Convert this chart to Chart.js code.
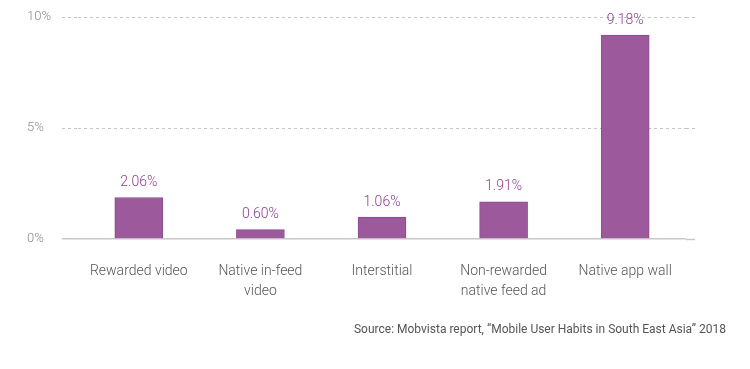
<!DOCTYPE html>
<html>
<head>
<meta charset="utf-8">
<script src="https://cdn.jsdelivr.net/npm/chart.js@4.4.1/dist/chart.umd.min.js"></script>
<style>
  body { margin: 0; background: #fff; }
  #wrap { position: relative; width: 750px; height: 369px; }
  #source {
    position: absolute; right: 24px; top: 322px;
    font-family: Roboto, sans-serif; font-size: 12px; color: #555;
  }
</style>
</head>
<body>
<div id="wrap">
  <canvas id="chart" width="750" height="369"></canvas>
  <div id="source">Source: Mobvista report, “Mobile User Habits in South East Asia” 2018</div>
</div>
<script>
// Data
const categories = ['Rewarded video', ['Native in-feed', 'video'], 'Interstitial', ['Non-rewarded', 'native feed ad'], 'Native app wall'];
const barValues = [1.87, 0.42, 0.99, 1.67, 9.18];
const valueLabels = ['2.06%', '0.60%', '1.06%', '1.91%', '9.18%'];
const yTicks = [0, 5, 10];

const barColor = '#9c5a9c';
const labelColor = '#8e3c8e';
const dashColor = '#c4c4c4';
const baseColor = '#c8c8c8';

// draws the printed percentage above each bar
const valueLabelPlugin = {
  id: 'valueLabels',
  afterDatasetsDraw(chart) {
    const ctx = chart.ctx;
    const meta = chart.getDatasetMeta(0);
    ctx.save();
    ctx.font = '300 14px Roboto, sans-serif';
    ctx.fillStyle = labelColor;
    ctx.textAlign = 'center';
    ctx.textBaseline = 'bottom';
    meta.data.forEach((bar, i) => {
      ctx.fillText(valueLabels[i], bar.x, bar.y - 8);
    });
    ctx.restore();
  }
};

const gridColor = c => c.tick && c.tick.value === 0 ? baseColor : dashColor;
const gridDash = c => c.tick && c.tick.value === 0 ? [] : [3, 3];
const gridWidth = c => c.tick && c.tick.value === 0 ? 1.5 : 1;

new Chart(document.getElementById('chart').getContext('2d'), {
  type: 'bar',
  data: {
    labels: categories,
    datasets: [{
      data: barValues,
      backgroundColor: barColor,
      borderColor: '#8f4a8f',
      borderWidth: 1,
      barThickness: 48
    }]
  },
  options: {
    responsive: false,
    animation: false,
    layout: { padding: { top: 17, left: 27, right: 0, bottom: 0 } },
    plugins: {
      legend: { display: false },
      tooltip: { enabled: false }
    },
    scales: {
      x: {
        grid: { display: false, drawTicks: false },
        border: { display: false },
        ticks: {
          color: '#555',
          padding: 22,
          maxRotation: 0,
          autoSkip: false,
          font: { family: 'Roboto', size: 14, weight: 300, lineHeight: 1.45 }
        },
        afterFit(scale) { scale.height = 130; }
      },
      y: {
        min: 0,
        max: 10,
        afterBuildTicks(scale) { scale.ticks = yTicks.map(v => ({ value: v })); },
        border: { display: false, dash: gridDash },
        grid: {
          color: gridColor,
          lineWidth: gridWidth,
          tickColor: gridColor,
          tickWidth: gridWidth,
          tickBorderDash: gridDash,
          tickLength: 16
        },
        ticks: {
          color: '#8a8a8a',
          padding: 0,
          crossAlign: 'far',
          font: { family: 'Roboto', size: 13, weight: 300 },
          callback: v => v + '%'
        },
        afterFit(scale) { scale.width = 51; }
      },
      y2: {
        position: 'right',
        min: 0,
        max: 10,
        afterBuildTicks(scale) { scale.ticks = yTicks.map(v => ({ value: v })); },
        border: { display: false },
        grid: {
          drawOnChartArea: false,
          tickColor: gridColor,
          tickWidth: gridWidth,
          tickBorderDash: gridDash,
          tickLength: 9
        },
        ticks: { display: false },
        afterFit(scale) { scale.width = 64; }
      }
    }
  },
  plugins: [valueLabelPlugin]
});
</script>
</body>
</html>
